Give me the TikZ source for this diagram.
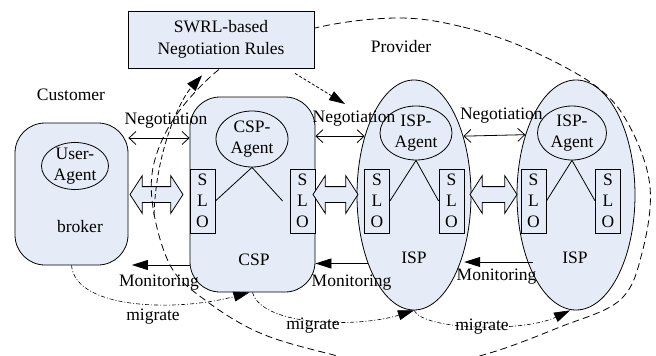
\documentclass[tikz,border=0pt]{standalone}
\usepackage{fontspec}
\setmainfont{Liberation Serif}
\usetikzlibrary{shapes.geometric, shapes.arrows, arrows.meta}
\definecolor{boxfill}{RGB}{230,236,247}
\tikzstyle{hostbox} = [rectangle, rounded corners=30pt, draw, fill=boxfill]
\tikzstyle{ispnode} = [ellipse, draw, fill=boxfill]
\tikzstyle{agent} = [ellipse, draw, fill=boxfill, align=center, inner sep=-3pt]
\tikzstyle{slo} = [rectangle, draw, fill=boxfill, minimum width=25pt, minimum height=64pt, inner sep=0pt, align=center]
\tikzstyle{rulebox} = [rectangle, draw, fill=boxfill, minimum width=186pt, minimum height=57pt, align=center, font=\fontsize{17.5}{22}\selectfont]
\tikzstyle{dblarrow} = [double arrow, draw, fill=boxfill, double arrow head extend=11pt, double arrow tip angle=114, inner xsep=0pt, inner ysep=7.5pt]
\tikzstyle{negarrow} = [{Straight Barb[length=7pt,width=13pt]}-{Straight Barb[length=7pt,width=13pt]}]
\tikzstyle{monarrow} = [-{Triangle[length=16pt,width=10pt]}]
\tikzstyle{migarrow} = [line width=0.6pt, dash pattern=on 4pt off 2pt on 1pt off 2pt, -{Triangle[length=16pt,width=10pt]}]
\tikzstyle{rulearrow} = [dash pattern=on 5pt off 3pt, -{Triangle[length=16pt,width=11pt]}]
\tikzstyle{hintarrow} = [dash pattern=on 3pt off 2pt, -{Triangle[length=16pt,width=10pt]}]
\tikzstyle{provline} = [dash pattern=on 7pt off 4pt]

\begin{document}
\begin{tikzpicture}[x=1pt, y=-1pt, line width=0.8pt, font=\fontsize{17.5}{21}\selectfont]
            \useasboundingbox (0,0) rectangle (656,356);

            % customer and provider hosts
            \node [hostbox, minimum width=113pt, minimum height=142pt] at (71.5,194) (broker) {};
            \node [hostbox, minimum width=125pt, minimum height=195pt] at (252.5,194.5) (csp) {};
            \node [ispnode, minimum width=114pt, minimum height=230pt] at (414,195) (isp1) {};
            \node [ispnode, minimum width=118pt, minimum height=230pt] at (576,195) (isp2) {};

            % agents
            \node [agent, minimum width=67pt, minimum height=47pt] at (75,166) (useragent) {User-\\Agent};
            \node [agent, minimum width=72pt, minimum height=56pt] at (252,139) (cspagent) {CSP-\\Agent};
            \node [agent, minimum width=72pt, minimum height=54pt] at (416,133) (ispagent1) {ISP-\\Agent};
            \node [agent, minimum width=69pt, minimum height=54pt] at (572,133) (ispagent2) {ISP-\\Agent};

            % SLOs
            \node [slo] at (202.5,201) (cspsloL) {S\\L\\O};
            \node [slo] at (302.5,201) (cspsloR) {S\\L\\O};
            \node [slo] at (377,201) (isp1sloL) {S\\L\\O};
            \node [slo] at (451.5,201) (isp1sloR) {S\\L\\O};
            \node [slo] at (533.5,201) (isp2sloL) {S\\L\\O};
            \node [slo] at (608,201) (isp2sloR) {S\\L\\O};

            \draw (cspagent.south) -- (cspsloL.east);
            \draw (cspagent.south) -- ([xshift=-7pt]cspsloR.west);
            \draw (ispagent1.south) -- (isp1sloL.east);
            \draw (ispagent1.south) -- (isp1sloR.west);
            \draw (ispagent2.south) -- (isp2sloL.east);
            \draw (ispagent2.south) -- (isp2sloR.west);

            % texts
            \node at (71,95) (customer) {Customer};
            \node at (401,47) (provider) {Provider};
            \node at (80,227) (brokertxt) {broker};
            \node at (254,260) (csptxt) {CSP};
            \node at (414,258) (isptxt1) {ISP};
            \node at (575,258) (isptxt2) {ISP};

            % SLO exchange
            \node [dblarrow, minimum height=53pt] at (156.5,194.5) (swap1) {};
            \node [dblarrow, minimum height=45pt] at (335.5,194.5) (swap2) {};
            \node [dblarrow, minimum height=47pt] at (493.5,194.5) (swap3) {};

            % negotiation
            \draw [negarrow] ([yshift=56pt]broker.east) -- node[above=6pt, xshift=7pt] {Negotiation} ([yshift=56pt]broker.east -| csp.west);
            \draw [negarrow] (isp1.130) -- node[above=6pt, xshift=14pt] {Negotiation} (isp1.130 -| csp.east);
            \draw [negarrow] (isp1.50) -- node[above=8pt, xshift=7pt] {Negotiation} (isp2.130);

            % monitoring
            \coordinate (monC) at (533,262);
            \draw [monarrow, shorten >=3.5pt] ([yshift=-70.5pt]csp.west) -- node[below=6pt] {Monitoring} ([yshift=-70.5pt]csp.west -| broker.east);
            \draw [monarrow] (isp1.236) -- node[below=8pt, xshift=10pt] {Monitoring} (isp1.236 -| csp.east);
            \draw [monarrow, shorten >=4pt] (monC) -- node[below=3pt] {Monitoring} (monC -| isp1.-56);

            % migrate
            \draw [migarrow] (broker.south) .. controls +(4,45) and +(-70,19) .. ([xshift=-3pt]csp.south);
            \draw [migarrow] (csp.south) .. controls +(10,35) and +(-54,17) .. (isp1.south);
            \draw [migarrow] (isp1.south) .. controls +(10,20) and +(-46,22) .. ([xshift=-6pt]isp2.south);
            \node at (153,317) (migtxt1) {migrate};
            \node at (313,326) (migtxt2) {migrate};
            \node at (482,327) (migtxt3) {migrate};

            % provider region
            \draw [provline] plot [smooth cycle, tension=0.6] coordinates {(397,18) (463,27) (530,50) (597,87) (630,127) (650,187) (642,253) (620,300) (560,327) (483,355) (405,370) (330,354) (260,333) (205,300) (170,265) (152,200) (158,150) (188,100) (240,55) (315,28)};

            % rules
            \node [rulebox] at (221,39.5) (rules) {SWRL-based\\Negotiation Rules};
            \coordinate (rulesrc) at (154,215);
            \coordinate (rulehit) at (345,104);
            \draw [rulearrow] (rulesrc) .. controls (156,150) and (180,100) .. ([xshift=-19pt,yshift=-7pt]rules.south);
            \draw [hintarrow] ([xshift=74pt,yshift=-5pt]rules.south) -- (rulehit);
            \end{tikzpicture}
\end{document}
